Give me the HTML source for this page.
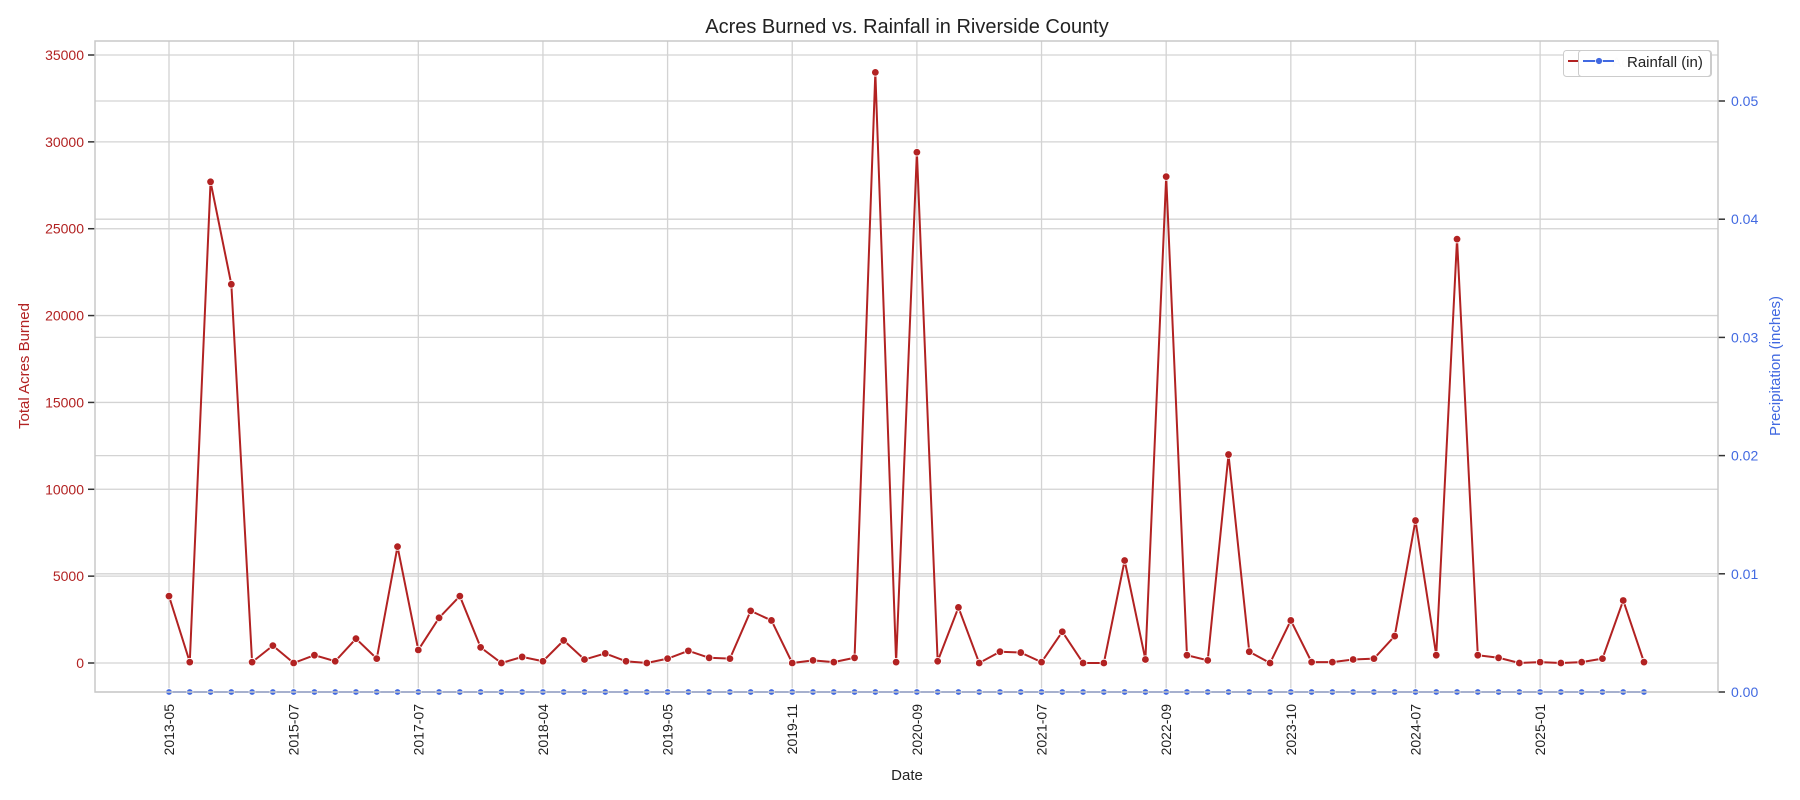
<!DOCTYPE html>
<html><head><meta charset="utf-8"><style>
html,body{margin:0;padding:0;background:#fff;}
svg{display:block;font-family:"Liberation Sans",Arial,sans-serif;}
</style></head><body>
<svg id="chart" width="1800" height="800" viewBox="0 0 1800 800" xmlns="http://www.w3.org/2000/svg">
<rect width="1800" height="800" fill="#fff"/>
<g id="grid"></g><g id="series"></g><g id="axes"></g>
<text x="907" y="33" text-anchor="middle" font-size="20" fill="#222">Acres Burned vs. Rainfall in Riverside County</text>
<text x="907" y="780" text-anchor="middle" font-size="15" fill="#222">Date</text>
<text transform="translate(29,366) rotate(-90)" text-anchor="middle" font-size="15" fill="#b22222">Total Acres Burned</text>
<text transform="translate(1780,366) rotate(-90)" text-anchor="middle" font-size="15" fill="#4169e1">Precipitation (inches)</text>
<g>
<rect x="1563.5" y="50.5" width="148" height="26" rx="3" fill="#fff" stroke="#ccc"/>
<line x1="1568" y1="61" x2="1578" y2="61" stroke="#b22222" stroke-width="2"/>
<text x="1612" y="67" font-size="14" fill="#ccc">Acres Burned</text>
</g>
<g>
<rect x="1578.5" y="50.5" width="132" height="26" rx="3" fill="#fff" fill-opacity="0.92" stroke="#ccc"/>
<line x1="1583" y1="61" x2="1614" y2="61" stroke="#4169e1" stroke-width="2"/>
<circle cx="1599" cy="61" r="3.5" fill="#4169e1" stroke="#fff" stroke-width="0.8"/>
<text x="1627" y="67" font-size="15" fill="#222">Rainfall (in)</text>
</g>
</svg>
<script>
const dates=["2013-05","2013-06","2013-08","2013-09","2014-06","2014-08","2015-07","2015-08","2015-09","2016-06","2016-07","2016-08","2017-07","2017-08","2017-09","2017-10","2017-11","2018-01","2018-04","2018-05","2018-06","2018-07","2018-08","2018-09","2019-05","2019-06","2019-07","2019-08","2019-09","2019-10","2019-11","2019-12","2020-02","2020-04","2020-07","2020-08","2020-09","2020-10","2020-11","2020-12","2021-03","2021-05","2021-07","2021-08","2021-10","2021-11","2022-05","2022-07","2022-09","2022-10","2022-11","2022-12","2023-04","2023-07","2023-10","2023-11","2023-12","2024-02","2024-04","2024-06","2024-07","2024-08","2024-09","2024-10","2024-11","2024-12","2025-01","2025-02","2025-03","2025-04","2025-05","2025-06"];
const acres=[3850,50,27700,21800,50,1000,0,450,100,1400,250,6700,750,2600,3850,900,0,350,100,1300,200,550,100,0,250,700,300,250,3000,2450,0,150,50,300,34000,50,29400,100,3200,0,650,600,50,1800,0,0,5900,200,28000,450,150,12000,650,0,2450,50,50,200,250,1550,8200,450,24400,450,300,0,50,0,50,250,3600,50];
const rainfall=new Array(72).fill(0);
const leftTicks=[0,5000,10000,15000,20000,25000,30000,35000];
const rightTicks=[0,0.01,0.02,0.03,0.04,0.05];
const rightTickLabels=["0.00","0.01","0.02","0.03","0.04","0.05"];
const xTickEvery=6;

const L=95,R=1718,T=41,B=692,NS="http://www.w3.org/2000/svg";
const x0=169,dx=(1644-169)/71;
const xs=i=>x0+i*dx;
const yL=v=>663-v*(608/35000);
const yR=v=>692-v*(118.2/0.01);
function mk(tag,attrs,parent){const e=document.createElementNS(NS,tag);for(const k in attrs)e.setAttribute(k,attrs[k]);parent.appendChild(e);return e;}
const grid=document.getElementById('grid'),series=document.getElementById('series'),axes=document.getElementById('axes');
// gridlines
leftTicks.forEach(v=>{const y=yL(v);const g=mk('line',{x1:L,x2:R,y1:y,y2:y,stroke:'#d3d3d3','stroke-width':1.3},grid);


const t=mk('line',{x1:L-7,x2:L,y1:y,y2:y,stroke:'#333','stroke-width':1.5},axes);


const lb=mk('text',{x:L-11,y:y+5,'text-anchor':'end','font-size':14,fill:'#b22222'},axes);lb.textContent=v;

});
rightTicks.forEach((v,i)=>{const y=yR(v);const g=mk('line',{x1:L,x2:R,y1:y,y2:y,stroke:'#d3d3d3','stroke-width':1.3},grid);


const t=mk('line',{x1:R,x2:R+7,y1:y,y2:y,stroke:'#333','stroke-width':1.5},axes);


const lb=mk('text',{x:R+13,y:y+5,'font-size':14,fill:'#4169e1'},axes);lb.textContent=rightTickLabels[i];

});
for(let i=0;i<dates.length;i+=xTickEvery){const x=xs(i);const g=mk('line',{x1:x,x2:x,y1:T,y2:B,stroke:'#d3d3d3','stroke-width':1.3},grid);


const lb=mk('text',{transform:`translate(${x+5},${B+12}) rotate(-90)`,'text-anchor':'end','font-size':14,fill:'#222'},axes);lb.textContent=dates[i];

}
const frame=mk('rect',{x:L,y:T,width:R-L,height:B-T,fill:'none',stroke:'#c8c8c8','stroke-width':1.5},axes);


// acres line
const ap=mk('polyline',{points:acres.map((v,i)=>xs(i)+','+yL(v)).join(' '),fill:'none',stroke:'#b22222','stroke-width':2},series);


acres.forEach((v,i)=>{const c=mk('circle',{cx:xs(i),cy:yL(v),r:3.8,fill:'#b22222',stroke:'#fff','stroke-width':0.8},series);

});
const rp=mk('polyline',{points:rainfall.map((v,i)=>xs(i)+','+yR(v)).join(' '),fill:'none',stroke:'#4169e1','stroke-width':2},series);


rainfall.forEach((v,i)=>{const c=mk('circle',{cx:xs(i),cy:yR(v),r:3.3,fill:'#4169e1',stroke:'#fff','stroke-width':0.8},series);

});
</script>
</body></html>
